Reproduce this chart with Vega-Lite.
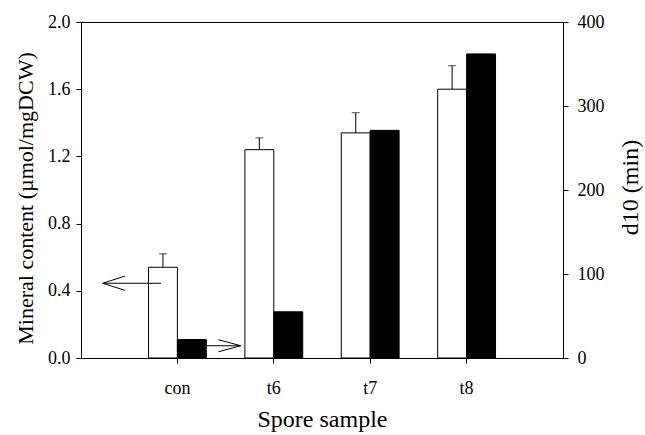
{
  "$schema": "https://vega.github.io/schema/vega-lite/v6.json",
  "width": 482,
  "height": 336,
  "autosize": "none",
  "padding": {"left": 81, "top": 22, "right": 82, "bottom": 77},
  "background": "white",
  "config": {
    "view": {"stroke": "black", "strokeWidth": 1},
    "font": "Liberation Serif",
    "axis": {
      "domainColor": "black",
      "tickColor": "black",
      "labelColor": "black",
      "titleColor": "black",
      "labelFont": "Liberation Serif",
      "titleFont": "Liberation Serif",
      "titleFontWeight": "normal",
      "grid": false,
      "labelFontSize": 18,
      "tickSize": 5
    }
  },
  "datasets": {
    "bars": [
      {"sample": "con", "series": "mineral", "value": 0.54, "upper": 0.62},
      {"sample": "t6", "series": "mineral", "value": 1.24, "upper": 1.31},
      {"sample": "t7", "series": "mineral", "value": 1.34, "upper": 1.46},
      {"sample": "t8", "series": "mineral", "value": 1.6, "upper": 1.74},
      {"sample": "con", "series": "d10", "value": 22},
      {"sample": "t6", "series": "d10", "value": 55},
      {"sample": "t7", "series": "d10", "value": 271},
      {"sample": "t8", "series": "d10", "value": 362}
    ],
    "arrows": [
      {"name": "left", "from": 0.83, "to": 0.225, "y": 0.445},
      {"name": "right", "from": 1.307, "to": 1.657, "y": 0.073}
    ]
  },
  "layer": [
    {
      "data": {"name": "bars"},
      "transform": [{"filter": "datum.series === 'mineral'"}],
      "mark": {"type": "bar", "fill": "white", "stroke": "black", "strokeWidth": 1},
      "encoding": {
        "x": {
          "field": "sample", "type": "nominal",
          "scale": {"domain": ["con", "t6", "t7", "t8"], "paddingInner": 0.4, "paddingOuter": 0.7},
          "axis": {"title": "Spore sample", "labelAngle": 0, "labelFont": "Liberation Serif", "titleFont": "Liberation Serif", "labelFontSize": 18, "titleFontSize": 24, "labelPadding": 16, "titlePadding": 10}
        },
        "xOffset": {"field": "series", "type": "nominal", "scale": {"domain": ["mineral", "d10"], "paddingInner": 0, "paddingOuter": 0}},
        "y": {
          "field": "value", "type": "quantitative",
          "scale": {"domain": [0, 2], "nice": false},
          "axis": {"title": "Mineral content (µmol/mgDCW)", "orient": "left", "values": [0, 0.4, 0.8, 1.2, 1.6, 2.0], "format": ".1f", "labelFont": "Liberation Serif", "titleFont": "Liberation Serif", "titleFontSize": 22, "labelPadding": 6, "titlePadding": 10, "titleY": 176}
        }
      }
    },
    {
      "data": {"name": "bars"},
      "transform": [{"filter": "datum.series === 'mineral'"}],
      "mark": {"type": "rule", "color": "black", "strokeWidth": 1},
      "encoding": {
        "x": {"field": "sample", "type": "nominal", "scale": {"domain": ["con", "t6", "t7", "t8"], "paddingInner": 0.4, "paddingOuter": 0.7}, "axis": null},
        "xOffset": {"field": "series", "type": "nominal", "scale": {"domain": ["mineral", "d10"], "paddingInner": 0, "paddingOuter": 0}},
        "y": {"field": "value", "type": "quantitative", "scale": {"domain": [0, 2], "nice": false}, "axis": null},
        "y2": {"field": "upper"}
      }
    },
    {
      "data": {"name": "bars"},
      "transform": [{"filter": "datum.series === 'mineral'"}],
      "mark": {"type": "tick", "color": "black", "size": 8, "thickness": 1, "orient": "horizontal"},
      "encoding": {
        "x": {"field": "sample", "type": "nominal", "scale": {"domain": ["con", "t6", "t7", "t8"], "paddingInner": 0.4, "paddingOuter": 0.7}, "axis": null},
        "xOffset": {"field": "series", "type": "nominal", "scale": {"domain": ["mineral", "d10"], "paddingInner": 0, "paddingOuter": 0}},
        "y": {"field": "upper", "type": "quantitative", "scale": {"domain": [0, 2], "nice": false}, "axis": null}
      }
    },
    {
      "data": {"name": "bars"},
      "transform": [{"filter": "datum.series === 'd10'"}],
      "mark": {"type": "bar", "fill": "black", "stroke": "black", "strokeWidth": 1},
      "encoding": {
        "x": {"field": "sample", "type": "nominal", "scale": {"domain": ["con", "t6", "t7", "t8"], "paddingInner": 0.4, "paddingOuter": 0.7}, "axis": null},
        "xOffset": {"field": "series", "type": "nominal", "scale": {"domain": ["mineral", "d10"], "paddingInner": 0, "paddingOuter": 0}},
        "y": {
          "field": "value", "type": "quantitative",
          "scale": {"domain": [0, 400], "nice": false},
          "axis": {"title": "d10 (min)", "orient": "right", "values": [0, 100, 200, 300, 400], "format": "d", "labelFont": "Liberation Serif", "titleFont": "Liberation Serif", "titleFontSize": 24, "titleAngle": 270, "titleBaseline": "top", "labelPadding": 9, "titlePadding": 14, "titleY": 165}
        }
      }
    },
    {
      "data": {"name": "arrows"},
      "mark": {"type": "rule", "color": "black", "strokeWidth": 1},
      "encoding": {
        "x": {"field": "from", "type": "quantitative", "scale": {"domain": [0, 5], "nice": false, "zero": false}, "axis": null},
        "x2": {"field": "to"},
        "y": {"field": "y", "type": "quantitative", "scale": {"domain": [0, 2], "nice": false}, "axis": null}
      }
    },
    {
      "data": {"name": "arrows"},
      "mark": {"type": "point", "filled": false, "stroke": "black", "strokeWidth": 1, "opacity": 1, "size": 2000},
      "encoding": {
        "x": {"field": "to", "type": "quantitative", "scale": {"domain": [0, 5], "nice": false, "zero": false}, "axis": null},
        "y": {"field": "y", "type": "quantitative", "scale": {"domain": [0, 2], "nice": false}, "axis": null},
        "shape": {
          "field": "name", "type": "nominal",
          "scale": {"domain": ["left", "right"], "range": ["M1,-0.32L0,0L1,0.32", "M-1,-0.27L0,0L-1,0.27"]},
          "legend": null
        }
      }
    }
  ],
  "resolve": {"scale": {"x": "independent", "y": "independent", "xOffset": "independent", "shape": "independent"}}
}
